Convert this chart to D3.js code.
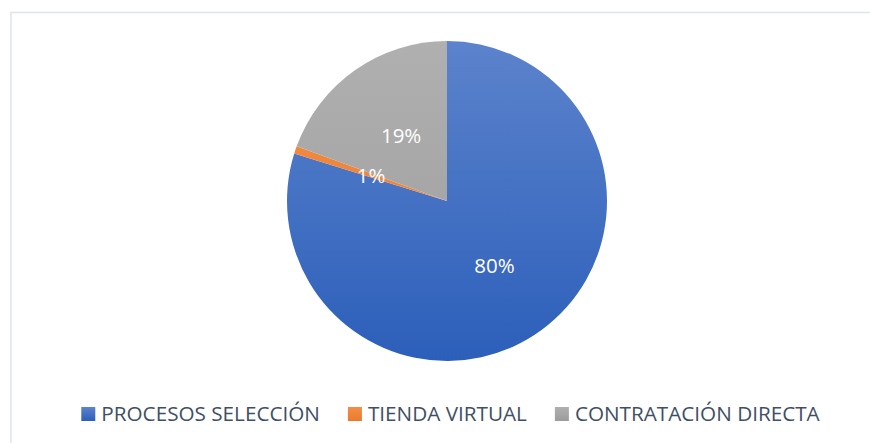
<!DOCTYPE html>
<html><head><meta charset="utf-8">
<script src="https://cdn.jsdelivr.net/npm/d3@7"></script>
<style>html,body{margin:0;padding:0;background:#fff;}svg{display:block;}</style>
</head><body>
<svg id="chart" width="870" height="443"></svg>
<script>
const categories = ["PROCESOS SELECCIÓN", "TIENDA VIRTUAL", "CONTRATACIÓN DIRECTA"];
const values = [79.8, 0.75, 19.45];
const colorsTop = ["#5c83cc", "#f28e45", "#b0b0b0"];
const colorsBottom = ["#2c5fba", "#eb7a2e", "#9c9c9c"];

const W = 870, H = 443;
const svg = d3.select("#chart");
const font = "'Open Sans', 'Liberation Sans', sans-serif";

// chart border (right/bottom edges off-canvas)
svg.append("rect").attr("x", 11).attr("y", 12.5).attr("width", 900).attr("height", 500)
  .attr("fill", "none").attr("stroke", "#dfe4ec").attr("stroke-width", 1.5);

const cx = 447, cy = 201, r = 160;
const defs = svg.append("defs");
categories.forEach((c, i) => {
  const g = defs.append("linearGradient").attr("id", "g" + i)
    .attr("gradientUnits", "userSpaceOnUse")
    .attr("x1", 0).attr("y1", -r).attr("x2", 0).attr("y2", r);
  g.append("stop").attr("offset", "0%").attr("stop-color", colorsTop[i]);
  g.append("stop").attr("offset", "100%").attr("stop-color", colorsBottom[i]);
  const lg = defs.append("linearGradient").attr("id", "lg" + i)
    .attr("x1", 0).attr("y1", 0).attr("x2", 0).attr("y2", 1);
  lg.append("stop").attr("offset", "0%").attr("stop-color", colorsTop[i]);
  lg.append("stop").attr("offset", "100%").attr("stop-color", colorsBottom[i]);
});

const pie = d3.pie().sort(null).value(d => d);
const arcs = pie(values);
const arc = d3.arc().innerRadius(0).outerRadius(r);
const labelArc = d3.arc().innerRadius(r / 2).outerRadius(r / 2);
const total = d3.sum(values);

const pg = svg.append("g").attr("transform", `translate(${cx},${cy})`);
pg.selectAll("path").data(arcs).enter().append("path")
  .attr("d", arc)
  .attr("fill", (d, i) => `url(#g${i})`);

pg.selectAll("text").data(arcs).enter().append("text")
  .attr("transform", d => `translate(${labelArc.centroid(d)})`)
  .attr("text-anchor", "middle")
  .attr("dominant-baseline", "central")
  .attr("fill", "#ffffff")
  .style("font-family", font).style("font-size", "20.5px")
  .text(d => Math.round(d.value / total * 100) + "%");

// legend
const lg = svg.append("g");
const items = lg.selectAll("g").data(categories).enter().append("g");
items.append("rect").attr("width", 14).attr("height", 14).attr("y", 407)
  .attr("fill", (d, i) => `url(#lg${i})`);
items.append("text").attr("x", 20).attr("y", 421)
  .attr("fill", "#3f4f66")
  .style("font-family", font).style("font-size", "20.7px")
  .text(d => d);
let widths = [];
items.each(function(){ widths.push(20 + d3.select(this).select("text").node().getComputedTextLength()); });
const gap = 28;
const totalW = d3.sum(widths) + gap * (widths.length - 1);
let x = 450.5 - totalW / 2;
items.attr("transform", (d, i) => { const t = `translate(${x},0)`; x += widths[i] + gap; return t; });
</script>
</body></html>
